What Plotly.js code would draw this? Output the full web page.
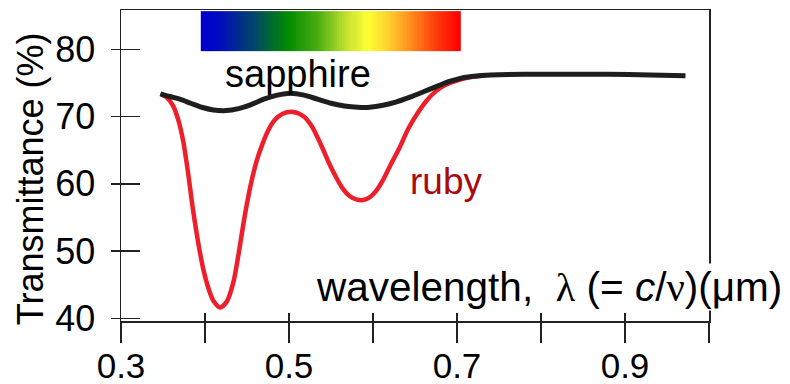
<!DOCTYPE html>
<html>
<head>
<meta charset="utf-8">
<script src="https://cdn.plot.ly/plotly-3.0.1.min.js"></script>
<style>
  html, body { margin: 0; padding: 0; background: #ffffff; }
  #chart { width: 790px; height: 384px; }
</style>
</head>
<body>
<div id="chart"></div>
<script>
// ---- data ----
const sapphireX = [0.347, 0.358, 0.370, 0.383, 0.396, 0.410, 0.425, 0.440, 0.455, 0.470, 0.486, 0.502, 0.518, 0.534, 0.550, 0.566, 0.582, 0.596, 0.612, 0.628, 0.644, 0.660, 0.676, 0.690, 0.704, 0.720, 0.740, 0.779, 0.830, 0.880, 0.930, 0.972];
const sapphireY = [73.4, 73.0, 72.6, 72.0, 71.4, 71.0, 70.9, 71.2, 71.8, 72.6, 73.2, 73.5, 73.2, 72.6, 72.0, 71.6, 71.4, 71.4, 71.7, 72.2, 72.9, 73.7, 74.5, 75.2, 75.7, 76.0, 76.2, 76.3, 76.3, 76.3, 76.2, 76.1];

const rubyX = [0.347, 0.355, 0.362, 0.368, 0.374, 0.380, 0.386, 0.392, 0.398, 0.404, 0.410, 0.418, 0.426, 0.434, 0.440, 0.447, 0.454, 0.461, 0.468, 0.475, 0.483, 0.492, 0.505, 0.518, 0.527, 0.534, 0.541, 0.548, 0.556, 0.564, 0.572, 0.580, 0.588, 0.596, 0.604, 0.612, 0.620, 0.632, 0.642, 0.653, 0.664, 0.675, 0.686, 0.698, 0.712, 0.730];
const rubyY = [73.4, 72.8, 71.6, 69.6, 66.4, 61.5, 55.9, 51.2, 47.3, 44.5, 42.6, 41.6, 42.5, 45.5, 49.6, 55.0, 59.6, 63.2, 65.8, 67.9, 69.5, 70.4, 70.7, 70.0, 68.6, 66.9, 65.0, 63.0, 61.0, 59.3, 58.2, 57.7, 57.6, 58.0, 59.0, 60.6, 62.6, 65.5, 68.2, 70.5, 72.4, 73.8, 74.7, 75.3, 75.8, 76.1];

// visible-spectrum strip (wavelength span in µm and its transmittance-axis band)
const spectrumRange = [0.395, 0.705];
const spectrumBand = [79.75, 85.7];
const spectrumColors = [
  [0.00, '#0000cc'],
  [0.06, '#0008c4'],
  [0.20, '#00446a'],
  [0.33, '#008a00'],
  [0.45, '#4aae10'],
  [0.56, '#c4e030'],
  [0.645, '#ffff33'],
  [0.73, '#ffcc2e'],
  [0.81, '#ff8c1c'],
  [0.91, '#ff3a0a'],
  [1.00, '#ff0000']
];

const xTickVals = [0.3, 0.4, 0.5, 0.6, 0.7, 0.8, 0.9, 1.0];
const xTickText = ['0.3', '', '0.5', '', '0.7', '', '0.9', ''];
const yTickVals = [40, 50, 60, 70, 80];
const yTickText = ['40', '50', '60', '70', '80'];

const xRange = [0.3, 1.0];
const yRange = [39.6, 85.87];

// build spectrum cells
const nCells = 120;
const specEdges = [];
const specZ = [];
for (let i = 0; i <= nCells; i++) {
  specEdges.push(spectrumRange[0] + (spectrumRange[1] - spectrumRange[0]) * i / nCells);
  if (i < nCells) specZ.push(i / (nCells - 1));
}

const FONT = 'Liberation Sans, Arial, Helvetica, sans-serif';
const SERIF = 'Liberation Serif, Times New Roman, serif';
const AX = '#222222';

const traces = [
  {
    type: 'heatmap',
    x: specEdges,
    y: spectrumBand,
    z: [specZ],
    colorscale: spectrumColors,
    zmin: 0, zmax: 1,
    showscale: false,
    hoverinfo: 'skip'
  },
  {
    type: 'scatter', mode: 'lines', name: 'ruby',
    x: rubyX, y: rubyY,
    line: { color: '#ec1f2a', width: 4.5, shape: 'spline', smoothing: 0.8 },
    hoverinfo: 'skip'
  },
  {
    type: 'scatter', mode: 'lines', name: 'sapphire',
    x: sapphireX, y: sapphireY,
    line: { color: '#1e1e1e', width: 5, shape: 'spline', smoothing: 0.8 },
    hoverinfo: 'skip'
  },
  {
    type: 'scatter', mode: 'lines', x: [], y: [], xaxis: 'x2', yaxis: 'y2',
    hoverinfo: 'skip', showlegend: false
  }
];

const layout = {
  width: 790, height: 384,
  margin: { l: 121, r: 81, t: 10, b: 63 },
  paper_bgcolor: '#ffffff',
  plot_bgcolor: '#ffffff',
  showlegend: false,
  font: { family: FONT, color: '#000000' },
  xaxis: {
    range: xRange, fixedrange: true,
    tickmode: 'array', tickvals: xTickVals, ticktext: xTickText,
    ticks: 'inside', ticklen: 8, tickwidth: 1.5, tickcolor: AX,
    showline: true, linecolor: AX, linewidth: 1.5, mirror: true,
    showgrid: false, zeroline: false,
    tickfont: { family: FONT, size: 35, color: '#000000' },
    ticklabelstandoff: 13
  },
  yaxis: {
    range: yRange, fixedrange: true,
    tickmode: 'array', tickvals: yTickVals, ticktext: yTickText,
    ticks: 'inside', ticklen: 19, tickwidth: 1.5, tickcolor: AX,
    showline: true, linecolor: AX, linewidth: 1.5, mirror: true,
    showgrid: false, zeroline: false,
    tickfont: { family: FONT, size: 36, color: '#000000' },
    ticklabelstandoff: 17
  },
  xaxis2: {
    overlaying: 'x', anchor: 'y', side: 'bottom',
    range: xRange, fixedrange: true,
    tickmode: 'array', tickvals: xTickVals,
    ticks: 'outside', ticklen: 21, tickwidth: 1.5, tickcolor: AX,
    showticklabels: false, showline: false, showgrid: false, zeroline: false
  },
  yaxis2: {
    overlaying: 'y', anchor: 'x', side: 'left',
    range: yRange, fixedrange: true,
    tickmode: 'array', tickvals: yTickVals,
    ticks: 'outside', ticklen: 9, tickwidth: 1.5, tickcolor: AX,
    showticklabels: false, showline: false, showgrid: false, zeroline: false
  },
  annotations: [
    {
      text: 'sapphire', xref: 'x', yref: 'y', x: 0.511, y: 76.3,
      xanchor: 'center', yanchor: 'middle', showarrow: false,
      font: { family: FONT, size: 38, color: '#000000' }
    },
    {
      text: 'ruby', xref: 'x', yref: 'y', x: 0.687, y: 60.4,
      xanchor: 'center', yanchor: 'middle', showarrow: false,
      font: { family: FONT, size: 37, color: '#aa0a0a' }
    },
    {
      text: 'wavelength,  <span style="font-family:' + SERIF + '">λ</span> (= <i>c</i>/<span style="font-family:' + SERIF + '">ν</span>)(μm)',
      xref: 'paper', yref: 'paper', x: (783 - 121) / 588, y: 0.11,
      xanchor: 'right', yanchor: 'middle', showarrow: false,
      bgcolor: '#ffffff', borderpad: 0,
      font: { family: FONT, size: 40.5, color: '#000000' }
    },
    {
      text: 'Transmittance (%)', xref: 'paper', yref: 'paper',
      x: -0.1526, y: 0.457, textangle: -90,
      xanchor: 'center', yanchor: 'middle', showarrow: false,
      font: { family: FONT, size: 36, color: '#000000' }
    }
  ]
};

Plotly.newPlot('chart', traces, layout, { staticPlot: true, displayModeBar: false });
</script>
</body>
</html>
